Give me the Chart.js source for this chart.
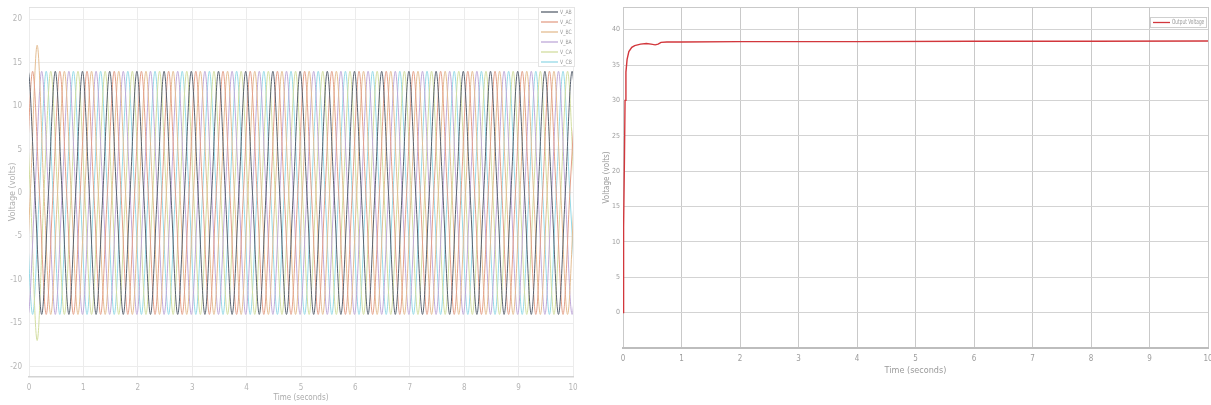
<!DOCTYPE html>
<html>
<head>
<meta charset="utf-8">
<script src="https://cdn.jsdelivr.net/npm/chart.js@4.4.1/dist/chart.umd.min.js"></script>
<style>
  body { margin: 0; background: #fff; width: 1211px; height: 405px; overflow: hidden; position: relative; }
  canvas { position: absolute; top: 0; }
  #left { left: 0; }
  #right { left: 590px; }
</style>
</head>
<body>
<canvas id="left" width="590" height="405"></canvas>
<canvas id="right" width="621" height="405"></canvas>
<script>
// left scope: six line voltages
const phaseLabels = ["V_AB", "V_AC", "V_BC", "V_BA", "V_CA", "V_CB"];
const phaseColors = ["#59626f", "#e39f88", "#e4bd92", "#bfa9d8", "#d2dd9f", "#95d9e6"];
const phaseShift = [102, 42, -18, 282, 162, 222]; // degrees
const wavePeriod = 0.5; // seconds, read from peak spacing
const waveQuarter = [0, 14, 0, -14]; // value at each quarter period
const waveEnd = 10;
// start-up overshoot
const spikeSeries = ["V_BC", "V_CA"];
const spikeTime = [0.15, 0.15];
const spikeValue = [17, -17];
const leftXTicks = [0, 1, 2, 3, 4, 5, 6, 7, 8, 9, 10];
const leftYTicks = [-20, -15, -10, -5, 0, 5, 10, 15, 20];

// right scope: output voltage
const outTime = [0, 0.005, 0.015, 0.025, 0.035, 0.05, 0.07, 0.1, 0.15, 0.2, 0.3, 0.4, 0.48, 0.55, 0.6, 0.65, 0.75, 1, 2, 4, 6, 8, 10];
const outVolt = [0, 4, 12, 22, 30, 34, 35.8, 36.9, 37.5, 37.75, 37.95, 38.05, 37.95, 37.85, 37.95, 38.2, 38.25, 38.25, 38.3, 38.3, 38.35, 38.35, 38.4];
const rightXTicks = [0, 1, 2, 3, 4, 5, 6, 7, 8, 9, 10];
const rightYTicks = [0, 5, 10, 15, 20, 25, 30, 35, 40];

Chart.defaults.font.family = "'Liberation Sans Narrow', 'DejaVu Sans Condensed', 'Liberation Sans', sans-serif";

function wavePoints(i) {
  const pts = [];
  const kStart = Math.floor(phaseShift[i] / 90) - 1;
  for (let k = kStart; ; k++) {
    const t = (90 * k - phaseShift[i]) / 360 * wavePeriod;
    pts.push({ x: t, y: waveQuarter[((k % 4) + 4) % 4] });
    if (t > waveEnd) break;
  }
  spikeSeries.forEach((name, j) => {
    if (name !== phaseLabels[i]) return;
    let best = pts[0];
    pts.forEach(p => { if (Math.abs(p.x - spikeTime[j]) < Math.abs(best.x - spikeTime[j])) best = p; });
    best.y = spikeValue[j];
  });
  return pts;
}

const tickList = arr => scale => { scale.ticks = arr.map(v => ({ value: v })); };

// fixed axis sizes so the plot box lands where the scope put it
const fitY = w => s => { s.width = w; s.paddingTop = 0; s.paddingBottom = 0; };
const fitX = h => s => { s.height = h; s.paddingLeft = 0; s.paddingRight = 0; };

// top edge of the plot box
const frameTop = {
  id: "frameTop",
  afterDraw(chart, args, o) {
    const a = chart.chartArea, ctx = chart.ctx;
    ctx.save();
    ctx.strokeStyle = o.color;
    ctx.lineWidth = 1;
    ctx.beginPath();
    ctx.moveTo(a.left, a.top + 0.5);
    ctx.lineTo(a.right, a.top + 0.5);
    ctx.stroke();
    ctx.restore();
  }
};

// legend box inside the plot, top right
const boxLegend = {
  id: "boxLegend",
  afterDraw(chart, args, o) {
    const ctx = chart.ctx, a = chart.chartArea;
    const sets = chart.data.datasets;
    const right = a.right + o.dx, top = a.top + o.dy;
    const left = right - o.width;
    const h = o.row * sets.length;
    ctx.save();
    ctx.fillStyle = "#fff";
    ctx.fillRect(left, top, o.width, h);
    ctx.strokeStyle = o.border;
    ctx.lineWidth = 1;
    ctx.strokeRect(left + 0.5, top + 0.5, o.width - 1, h - 1);
    ctx.font = o.size + "px " + Chart.defaults.font.family;
    ctx.textBaseline = "middle";
    sets.forEach((d, i) => {
      const y = top + o.row * (i + 0.5);
      ctx.strokeStyle = d.borderColor;
      ctx.lineWidth = 1.3;
      ctx.beginPath();
      ctx.moveTo(left + 3, y);
      ctx.lineTo(left + 3 + o.line, y);
      ctx.stroke();
      ctx.save();
      ctx.translate(left + 5 + o.line, y);
      ctx.scale(o.squeeze, 1);
      ctx.fillStyle = "#9a9a9a";
      ctx.fillText(d.label, 0, 0);
      ctx.restore();
    });
    ctx.restore();
  }
};

new Chart(document.getElementById("left"), {
  type: "line",
  data: {
    datasets: phaseLabels.map((name, i) => ({
      label: name,
      data: wavePoints(i),
      borderColor: phaseColors[i],
      borderWidth: 1,
      pointRadius: 0,
      cubicInterpolationMode: "monotone",
      fill: false
    }))
  },
  options: {
    responsive: false,
    animation: false,
    devicePixelRatio: 1,
    layout: { padding: { top: 7, right: 17 } },
    plugins: {
      legend: { display: false },
      tooltip: { enabled: false },
      frameTop: { color: "#e2e2e2" },
      boxLegend: { dx: 2, dy: 0, width: 37, row: 10, line: 17, size: 6, squeeze: 0.85, border: "#e4e4e4" }
    },
    scales: {
      x: {
        type: "linear", min: 0, max: 10,
        afterBuildTicks: tickList(leftXTicks),
        afterFit: fitX(28),
        grid: { color: "#ececec", drawTicks: false },
        border: { color: "#d3d3d3", width: 1.5 },
        ticks: { color: "#b5b5b5", font: { size: 8 }, padding: 6 },
        title: { display: true, text: "Time (seconds)", color: "#aaaaaa", font: { size: 8 }, padding: { top: 0, bottom: 2 } }
      },
      y: {
        type: "linear", min: -21.2, max: 21.4,
        afterBuildTicks: tickList(leftYTicks),
        afterFit: fitY(29),
        grid: { color: "#ececec", drawTicks: false },
        border: { display: false },
        ticks: { color: "#b5b5b5", font: { size: 8 }, padding: 7 },
        title: { display: true, text: "Voltage (volts)", color: "#b0b0b0", font: { size: 9 }, padding: { top: 7 } }
      }
    }
  },
  plugins: [frameTop, boxLegend]
});

new Chart(document.getElementById("right"), {
  type: "line",
  data: {
    datasets: [{
      label: "Output Voltage",
      data: outTime.map((t, i) => ({ x: t, y: outVolt[i] })),
      borderColor: "#d2373c",
      borderWidth: 1.4,
      pointRadius: 0,
      tension: 0,
      fill: false
    }]
  },
  options: {
    responsive: false,
    animation: false,
    devicePixelRatio: 1,
    layout: { padding: { top: 7, right: 3, bottom: 29 } },
    plugins: {
      legend: { display: false },
      tooltip: { enabled: false },
      frameTop: { color: "#c9c9c9" },
      boxLegend: { dx: -1, dy: 10, width: 57, row: 11, line: 17, size: 7, squeeze: 0.68, border: "#cfcfcf" }
    },
    scales: {
      x: {
        type: "linear", min: 0, max: 10,
        afterBuildTicks: tickList(rightXTicks),
        afterFit: fitX(28),
        grid: { color: "#c9c9c9", drawTicks: false },
        border: { color: "#bdbdbd", width: 2 },
        ticks: { color: "#9d9d9d", font: { size: 8 }, padding: 6 },
        title: { display: true, text: "Time (seconds)", color: "#9a9a9a", font: { size: 9 }, padding: { top: 0, bottom: 0 } }
      },
      y: {
        type: "linear", min: -5, max: 43.2,
        afterBuildTicks: tickList(rightYTicks),
        afterFit: fitY(33),
        grid: { color: "#d3d3d3", drawTicks: false },
        border: { display: false },
        ticks: { color: "#9d9d9d", font: { size: 7 }, padding: 3 },
        title: { display: true, text: "Voltage (volts)", color: "#9a9a9a", font: { size: 8 }, padding: { top: 12 } }
      }
    }
  },
  plugins: [frameTop, boxLegend]
});
</script>
</body>
</html>
